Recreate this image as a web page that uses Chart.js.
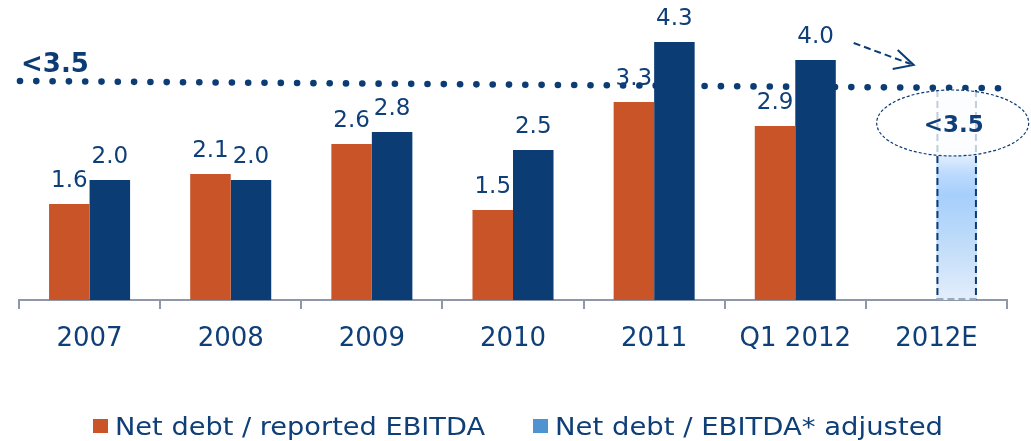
<!DOCTYPE html>
<html><head><meta charset="utf-8">
<script src="https://cdn.jsdelivr.net/npm/chart.js@4.4.1/dist/chart.umd.min.js"></script>
<style>html,body{margin:0;padding:0;background:#fff}#wrap{width:1031px;height:441px}</style>
</head><body><div id="wrap"><canvas id="c" width="1031" height="441"></canvas></div>
<script>
const categories = ["2007","2008","2009","2010","2011","Q1 2012","2012E"];
const reported = [1.6, 2.1, 2.6, 1.5, 3.3, 2.9, null];
const adjusted = [2.0, 2.0, 2.8, 2.5, 4.3, 4.0, 3.5];
const targetLabel = "<3.5";
const targetLineStart = 3.65;
const targetLineEnd = 3.53;
const legendNames = ["Net debt / reported EBITDA", "Net debt / EBITDA* adjusted"];
const legendColors = ['#C85428', '#4F93D0'];

const NAVY = '#0B3C74', ORANGE = '#C85428', TXT = '#0F3F78', AXIS = '#8F98AB';
const FONT = '"DejaVu Sans", Verdana, sans-serif';
const estIdx = categories.length - 1;

function estFill(ctx) {
  const chart = ctx.chart;
  if (ctx.dataIndex !== estIdx) return NAVY;
  const ca = chart.chartArea; if (!ca) return '#cfe3fb';
  const y = chart.scales.y;
  const top = y.getPixelForValue(adjusted[estIdx]), bot = y.getPixelForValue(0);
  const g = chart.ctx.createLinearGradient(0, top, 0, bot);
  g.addColorStop(0, '#f3f8fe'); g.addColorStop(0.28, '#eef5fe'); g.addColorStop(0.4, '#bcdafd');
  g.addColorStop(0.5, '#a6cffc'); g.addColorStop(0.7, '#bcdaf9'); g.addColorStop(1, '#e3eefb');
  return g;
}

function fitText(c, text, x, y, width) {
  const w = c.measureText(text).width;
  c.save(); c.translate(x, y); c.scale(width / w, 1); c.fillText(text, 0, 0); c.restore();
}

const overlay = {
  id: 'overlay',
  beforeDatasetsDraw(chart) {
    const c = chart.ctx, y = chart.scales.y;
    const x0 = 20, x1 = 1000;
    const y0 = y.getPixelForValue(targetLineStart), y1 = y.getPixelForValue(targetLineEnd);
    c.save(); c.fillStyle = NAVY;
    for (let px = x0; px <= x1; px += 16.3) {
      const py = y0 + (y1 - y0) * (px - x0) / (x1 - x0);
      c.beginPath(); c.arc(px, py, 3.3, 0, Math.PI * 2); c.fill();
    }
    c.font = 'bold 26px ' + FONT; c.textBaseline = 'alphabetic'; c.textAlign = 'left';
    c.fillText(targetLabel, 21, 72);
    c.restore();
  },
  afterDatasetsDraw(chart) {
    const c = chart.ctx, y = chart.scales.y;
    c.save();
    c.font = '23px ' + FONT; c.fillStyle = TXT; c.textAlign = 'center'; c.textBaseline = 'alphabetic';
    [0, 1].forEach(di => {
      const meta = chart.getDatasetMeta(di);
      const vals = di === 0 ? reported : adjusted;
      meta.data.forEach((el, i) => {
        if (vals[i] == null || i === estIdx) return;
        c.fillText(vals[i].toFixed(1), el.x, el.y - 17);
      });
    });
    // estimate bar border
    const el = chart.getDatasetMeta(1).data[estIdx];
    const l = el.x - el.width / 2, r = el.x + el.width / 2, t = el.y, b = y.getPixelForValue(0);
    c.lineWidth = 2; c.setLineDash([7, 4]); c.strokeStyle = NAVY;
    c.beginPath(); c.moveTo(l + 1, t); c.lineTo(l + 1, b); c.moveTo(r - 1, t); c.lineTo(r - 1, b); c.stroke();
    c.strokeStyle = '#9aa8bd'; c.beginPath(); c.moveTo(l, b - 1); c.lineTo(r, b - 1); c.stroke();
    // ellipse
    const ex = el.x - 4, ey = el.y + 33;
    c.setLineDash([]); c.fillStyle = 'rgba(255,255,255,0.75)';
    c.beginPath(); c.ellipse(ex, ey, 76, 33, 0, 0, Math.PI * 2); c.fill();
    c.setLineDash([3, 2]); c.lineWidth = 1.2; c.strokeStyle = NAVY; c.stroke();
    c.setLineDash([]);
    c.font = 'bold 23px ' + FONT; c.fillStyle = TXT; c.textAlign = 'center';
    c.fillText(targetLabel, ex + 1, ey + 9);
    // arrow
    const ax0 = el.x - 103, ay0 = 43, ax1 = el.x - 43, ay1 = 65;
    c.strokeStyle = NAVY; c.lineWidth = 2; c.setLineDash([7, 4]);
    c.beginPath(); c.moveTo(ax0, ay0); c.lineTo(ax1 - 3, ay1 - 1); c.stroke();
    c.setLineDash([]);
    c.beginPath(); c.moveTo(ax1 - 16, 50); c.lineTo(ax1, ay1); c.lineTo(ax1 - 21, 69); c.stroke();
    c.restore();
  },
  afterDraw(chart) {
    const c = chart.ctx;
    c.save();
    c.font = '25px ' + FONT; c.textBaseline = 'alphabetic'; c.textAlign = 'left';
    const items = [
      { box: 93, tx: 115, tw: 370 },
      { box: 533, tx: 555, tw: 388 }
    ];
    items.forEach((it, i) => {
      c.fillStyle = legendColors[i]; c.fillRect(it.box, 419, 15, 14);
      c.fillStyle = TXT; fitText(c, legendNames[i], it.tx, 435, it.tw);
    });
    c.restore();
  }
};

new Chart(document.getElementById('c'), {
  type: 'bar',
  data: {
    labels: categories,
    datasets: [
      { label: legendNames[0], data: reported, backgroundColor: ORANGE, borderWidth: 0 },
      { label: legendNames[1], data: adjusted, backgroundColor: estFill, borderWidth: 0 }
    ]
  },
  options: {
    responsive: false, animation: false, devicePixelRatio: 1,
    layout: { padding: { left: 19, right: 24, top: 0, bottom: 0 } },
    datasets: { bar: { categoryPercentage: 0.574, barPercentage: 1 } },
    scales: {
      x: {
        grid: { display: true, drawOnChartArea: false, offset: true, tickLength: 9, color: AXIS, lineWidth: 2 },
        border: { display: true, color: AXIS, width: 2 },
        ticks: { color: TXT, font: { family: FONT, size: 26 }, padding: 15 },
        afterFit(s) { s.height = 141; }
      },
      y: { display: false, min: 0, max: 5 }
    },
    plugins: { tooltip: { enabled: false }, legend: { display: false } }
  },
  plugins: [overlay]
});
</script></body></html>
